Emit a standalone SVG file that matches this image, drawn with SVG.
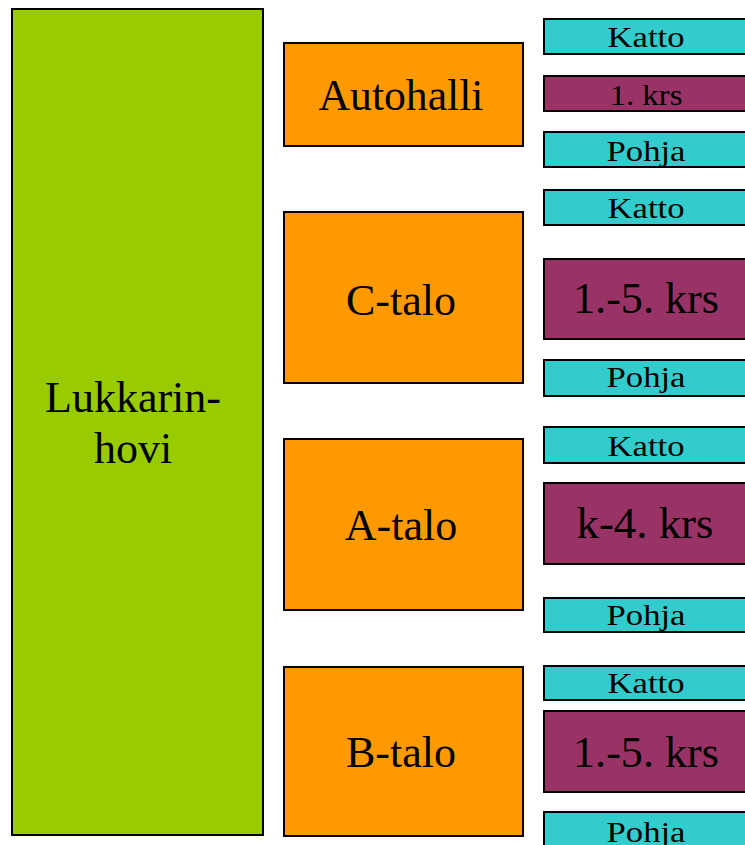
<svg xmlns="http://www.w3.org/2000/svg" width="745" height="845" viewBox="0 0 745 845">
<style>
rect{stroke:#000;stroke-width:2}
.g{fill:#99CC00}
.o{fill:#FF9900}
.c{fill:#33CCCC}
.m{fill:#993366}
text{font-family:"Liberation Serif","Times New Roman",serif;fill:#000;text-anchor:middle}
.big{font-size:44px}
.sm{font-size:29px}
</style>
<rect width="745" height="845" fill="#fff" style="stroke:none"/>
<g id="lukkarinhovi">
<rect class="g" x="12" y="9" width="251" height="826"/>
<text class="big" x="133" y="412">Lukkarin-</text>
<text class="big" x="133" y="463">hovi</text>
</g>
<g id="autohalli">
<rect class="o" x="284" y="43" width="239" height="103"/>
<text class="big" x="401" y="110" textLength="165" lengthAdjust="spacingAndGlyphs">Autohalli</text>
</g>
<g id="c-talo">
<rect class="o" x="284" y="212" width="239" height="171"/>
<text class="big" x="401" y="315">C-talo</text>
</g>
<g id="a-talo">
<rect class="o" x="284" y="439" width="239" height="171"/>
<text class="big" x="401" y="540">A-talo</text>
</g>
<g id="b-talo">
<rect class="o" x="284" y="667" width="239" height="169"/>
<text class="big" x="401" y="767">B-talo</text>
</g>
<g id="autohalli-katto">
<rect class="c" x="544" y="19" width="210" height="35"/>
<text class="sm" x="646" y="47" textLength="77" lengthAdjust="spacingAndGlyphs">Katto</text>
</g>
<g id="autohalli-krs">
<rect class="m" x="544" y="76" width="210" height="35"/>
<text class="sm" x="646" y="105" textLength="73" lengthAdjust="spacingAndGlyphs">1. krs</text>
</g>
<g id="autohalli-pohja">
<rect class="c" x="544" y="132" width="210" height="35"/>
<text class="sm" x="646" y="161" textLength="79" lengthAdjust="spacingAndGlyphs">Pohja</text>
</g>
<g id="c-katto">
<rect class="c" x="544" y="190" width="210" height="35"/>
<text class="sm" x="646" y="218" textLength="77" lengthAdjust="spacingAndGlyphs">Katto</text>
</g>
<g id="c-krs">
<rect class="m" x="544" y="259" width="210" height="80"/>
<text class="big" x="646" y="313" textLength="146" lengthAdjust="spacingAndGlyphs">1.-5. krs</text>
</g>
<g id="c-pohja">
<rect class="c" x="544" y="360" width="210" height="36"/>
<text class="sm" x="646" y="387" textLength="79" lengthAdjust="spacingAndGlyphs">Pohja</text>
</g>
<g id="a-katto">
<rect class="c" x="544" y="427" width="210" height="36"/>
<text class="sm" x="646" y="456" textLength="77" lengthAdjust="spacingAndGlyphs">Katto</text>
</g>
<g id="a-krs">
<rect class="m" x="544" y="483" width="210" height="81"/>
<text class="big" x="645" y="538" textLength="137" lengthAdjust="spacingAndGlyphs">k-4. krs</text>
</g>
<g id="a-pohja">
<rect class="c" x="544" y="598" width="210" height="34"/>
<text class="sm" x="646" y="625" textLength="79" lengthAdjust="spacingAndGlyphs">Pohja</text>
</g>
<g id="b-katto">
<rect class="c" x="544" y="666" width="210" height="34"/>
<text class="sm" x="646" y="693" textLength="77" lengthAdjust="spacingAndGlyphs">Katto</text>
</g>
<g id="b-krs">
<rect class="m" x="544" y="711" width="210" height="81"/>
<text class="big" x="646" y="767" textLength="146" lengthAdjust="spacingAndGlyphs">1.-5. krs</text>
</g>
<g id="b-pohja">
<rect class="c" x="544" y="812" width="210" height="50"/>
<text class="sm" x="646" y="842" textLength="79" lengthAdjust="spacingAndGlyphs">Pohja</text>
</g>
<g id="connectors"></g>
</svg>
